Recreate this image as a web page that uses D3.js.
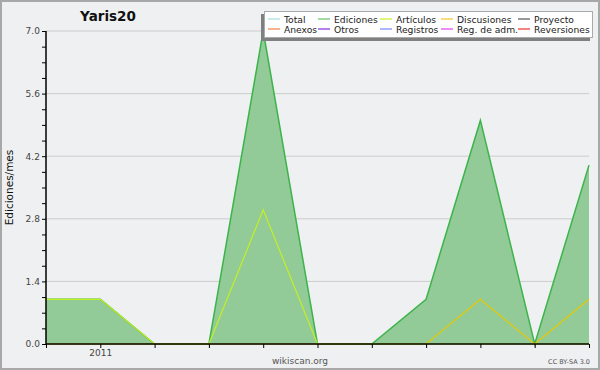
<!DOCTYPE html>
<html>
 <head>
   <meta charset="utf-8">
   <title>Yaris20</title>
   <script src="https://cdn.jsdelivr.net/npm/d3@7/dist/d3.min.js"></script>
   <style>
     body { margin: 0; background: #fff; }
     text { font-family: "DejaVu Sans", sans-serif; }
   </style>
 </head>
 <body>
  <script>
    // months Dec 2010 .. Oct 2011
    var months = ["2010-12", "2011-01", "2011-02", "2011-03", "2011-04", "2011-05",
                  "2011-06", "2011-07", "2011-08", "2011-09", "2011-10"];
    var ediciones   = [1, 1, 0, 0, 7, 0, 0, 1, 5, 0, 4];
    var articulos   = [1, 1, 0, 0, 3, 0, 0, 0, 0, 0, 0];
    var discusiones = [0, 0, 0, 0, 0, 0, 0, 0, 1, 0, 1];
    var yTicks = [0, 1.4, 2.8, 4.2, 5.6, 7.0];
    var legendRow1 = ["Total", "Ediciones", "Artículos", "Discusiones", "Proyecto"];
    var legendRow2 = ["Anexos", "Otros", "Registros", "Reg. de adm.", "Reversiones"];
    var colorsRow1 = ["#a8dede", "#66c466", "#c8ee22", "#f4c820", "#555555"];
    var colorsRow2 = ["#f08040", "#8a2be2", "#7a86ff", "#e040f0", "#f03030"];

    var width = 600, height = 370;
    var plotL = 46, plotR = 589, plotT = 31, plotB = 344;

    var svg = d3.select("body").append("svg")
                .attr("width", width)
                .attr("height", height);

    svg.append("rect")
       .attr("x", 1).attr("y", 1)
       .attr("width", width - 2).attr("height", height - 2)
       .attr("fill", "#eff0f2")
       .attr("stroke", "#a8a8a8")
       .attr("stroke-width", 2);

    var x = d3.scalePoint().domain(months).range([plotL, plotR]);
    var y = d3.scaleLinear().domain([0, 7]).range([plotB, plotT]);

    // grid lines
    svg.append("g").selectAll("line")
       .data(yTicks.slice(1))
       .enter().append("line")
       .attr("x1", plotL).attr("x2", plotR)
       .attr("y1", function(d) { return y(d); })
       .attr("y2", function(d) { return y(d); })
       .attr("stroke", "#cccccc");

    // Ediciones area
    var area = d3.area()
                 .x(function(d, i) { return x(months[i]); })
                 .y0(plotB)
                 .y1(function(d) { return y(d); });
    svg.append("path")
       .datum(ediciones)
       .attr("d", area)
       .attr("fill", "#93cb98");

    var line = d3.line()
                 .x(function(d, i) { return x(months[i]); })
                 .y(function(d) { return y(d); });
    svg.append("path")
       .datum(ediciones)
       .attr("d", line)
       .attr("fill", "none")
       .attr("stroke", "#3cb44b")
       .attr("stroke-width", 1.5);

    svg.append("path")
       .datum(discusiones)
       .attr("d", line)
       .attr("fill", "none")
       .attr("stroke", "#e8c800")
       .attr("stroke-width", 1.2);

    svg.append("path")
       .datum(articulos)
       .attr("d", line)
       .attr("fill", "none")
       .attr("stroke", "#c4f020")
       .attr("stroke-width", 1.2);

    // axes
    var yAxis = d3.axisLeft(y)
                  .tickValues(d3.range(0, 7.01, 0.35))
                  .tickSize(4)
                  .tickFormat(function(d) {
                     var hit = yTicks.some(function(t) { return Math.abs(t - d) < 1e-6; });
                     return hit ? d3.format(".1f")(d) : "";
                  });
    var gy = svg.append("g")
                .attr("transform", "translate(" + plotL + ",0)")
                .call(yAxis);

    var xAxis = d3.axisBottom(x)
                  .tickSize(4)
                  .tickFormat(function(d) { return d.slice(5) == "01" ? d.slice(0, 4) : ""; });
    var gx = svg.append("g")
                .attr("transform", "translate(0," + plotB + ")")
                .call(xAxis);

    [gx, gy].forEach(function(g) {
       g.select(".domain").attr("stroke", "#000").attr("stroke-width", 1.5);
       g.selectAll(".tick line").attr("stroke", "#000");
       g.selectAll("text")
        .attr("font-family", "DejaVu Sans")
        .attr("font-size", 9)
        .attr("fill", "#444");
    });
    gy.select(".domain").attr("d", "M0," + plotB + "V" + plotT);
    gx.select(".domain").attr("d", "M" + plotL + ",0H" + plotR);
    gx.selectAll("text").attr("dy", "0.6em");
    gy.selectAll("text").attr("dx", "0.1em");

    // title and labels
    svg.append("text")
       .attr("x", 108).attr("y", 21)
       .attr("text-anchor", "middle")
       .attr("font-size", 13.5)
       .attr("font-weight", "bold")
       .attr("fill", "#111")
       .text("Yaris20");

    svg.append("text")
       .attr("transform", "translate(13," + ((plotT + plotB) / 2) + ") rotate(-90)")
       .attr("text-anchor", "middle")
       .attr("font-size", 10.5)
       .attr("fill", "#111")
       .text("Ediciones/mes");

    svg.append("text")
       .attr("x", 300).attr("y", 364)
       .attr("text-anchor", "middle")
       .attr("font-size", 9)
       .attr("fill", "#555")
       .text("wikiscan.org");

    svg.append("text")
       .attr("x", 590).attr("y", 364)
       .attr("text-anchor", "end")
       .attr("font-size", 6.5)
       .attr("fill", "#555")
       .text("CC BY-SA 3.0");

    // legend
    var lg = svg.append("g");
    lg.append("rect")
      .attr("x", 261).attr("y", 14)
      .attr("width", 329).attr("height", 27)
      .attr("fill", "#808080");
    lg.append("rect")
      .attr("x", 264.5).attr("y", 11.5)
      .attr("width", 328).attr("height", 26)
      .attr("fill", "#fff")
      .attr("stroke", "#aaa");

    var colX = [268, 318, 380, 441, 518];
    [[legendRow1, colorsRow1, 19], [legendRow2, colorsRow2, 29]].forEach(function(row) {
       row[0].forEach(function(name, i) {
          lg.append("line")
            .attr("x1", colX[i]).attr("x2", colX[i] + 12)
            .attr("y1", row[2]).attr("y2", row[2])
            .attr("stroke", row[1][i])
            .attr("stroke-width", 1.2);
          lg.append("text")
            .attr("x", colX[i] + 16).attr("y", row[2] + 3.5)
            .attr("font-size", 9.2)
            .attr("fill", "#222")
            .text(name);
       });
    });
  </script>
 </body>
</html>
